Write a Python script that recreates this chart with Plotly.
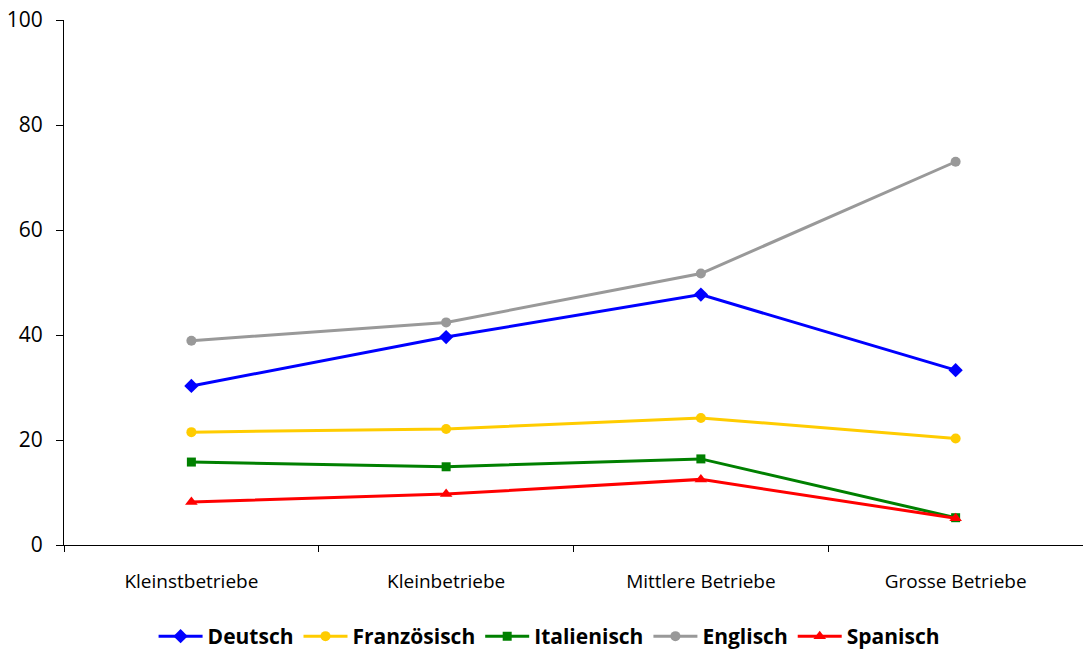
import plotly.graph_objects as go

categories = ["Kleinstbetriebe", "Kleinbetriebe", "Mittlere Betriebe", "Grosse Betriebe"]

deutsch = [30.3, 39.6, 47.7, 33.3]
franzoesisch = [21.5, 22.1, 24.2, 20.3]
italienisch = [15.8, 14.9, 16.4, 5.2]
englisch = [38.9, 42.4, 51.7, 73.0]
spanisch = [8.2, 9.7, 12.5, 5.1]

y_ticks = [0, 20, 40, 60, 80, 100]

series = [
    ("Deutsch", deutsch, "#0000FF", "diamond", 11),
    ("Französisch", franzoesisch, "#FFCC00", "circle", 10),
    ("Italienisch", italienisch, "#008000", "square", 9),
    ("Englisch", englisch, "#999999", "circle", 10),
    ("Spanisch", spanisch, "#FF0000", "triangle-up", 11),
]

fig = go.Figure()
for name, values, color, symbol, size in series:
    fig.add_trace(go.Scatter(
        x=categories, y=values, name=name, mode="lines+markers",
        line=dict(color=color, width=3),
        marker=dict(symbol=symbol, size=size, color=color),
    ))

fig.update_layout(
    width=1083, height=657,
    margin=dict(l=64, r=0, t=20, b=112),
    paper_bgcolor="white", plot_bgcolor="white",
    font=dict(family="Open Sans", color="black"),
    showlegend=True,
    legend=dict(
        orientation="h", xref="container", yref="container",
        x=0.507, xanchor="center", y=-0.022, yanchor="bottom",
        font=dict(family="Open Sans", size=21, color="black", weight="bold"),
        itemwidth=44, tracegroupgap=0,
    ),
    xaxis=dict(
        type="category", range=[-0.5, 3.5], automargin=False,
        showline=True, linecolor="black", linewidth=1,
        ticks="outside", tickson="boundaries", ticklen=6, tickcolor="black",
        showgrid=False, zeroline=False,
        tickfont=dict(size=19, color="black"),
        ticklabelstandoff=19,
    ),
    yaxis=dict(
        range=[0, 100], tickvals=y_ticks, automargin=False,
        showline=True, linecolor="black", linewidth=1,
        ticks="outside", ticklen=7, tickcolor="black",
        showgrid=False, zeroline=False,
        tickfont=dict(size=21, color="black"),
        ticklabelstandoff=9,
    ),
)

fig.write_html("out.html")
